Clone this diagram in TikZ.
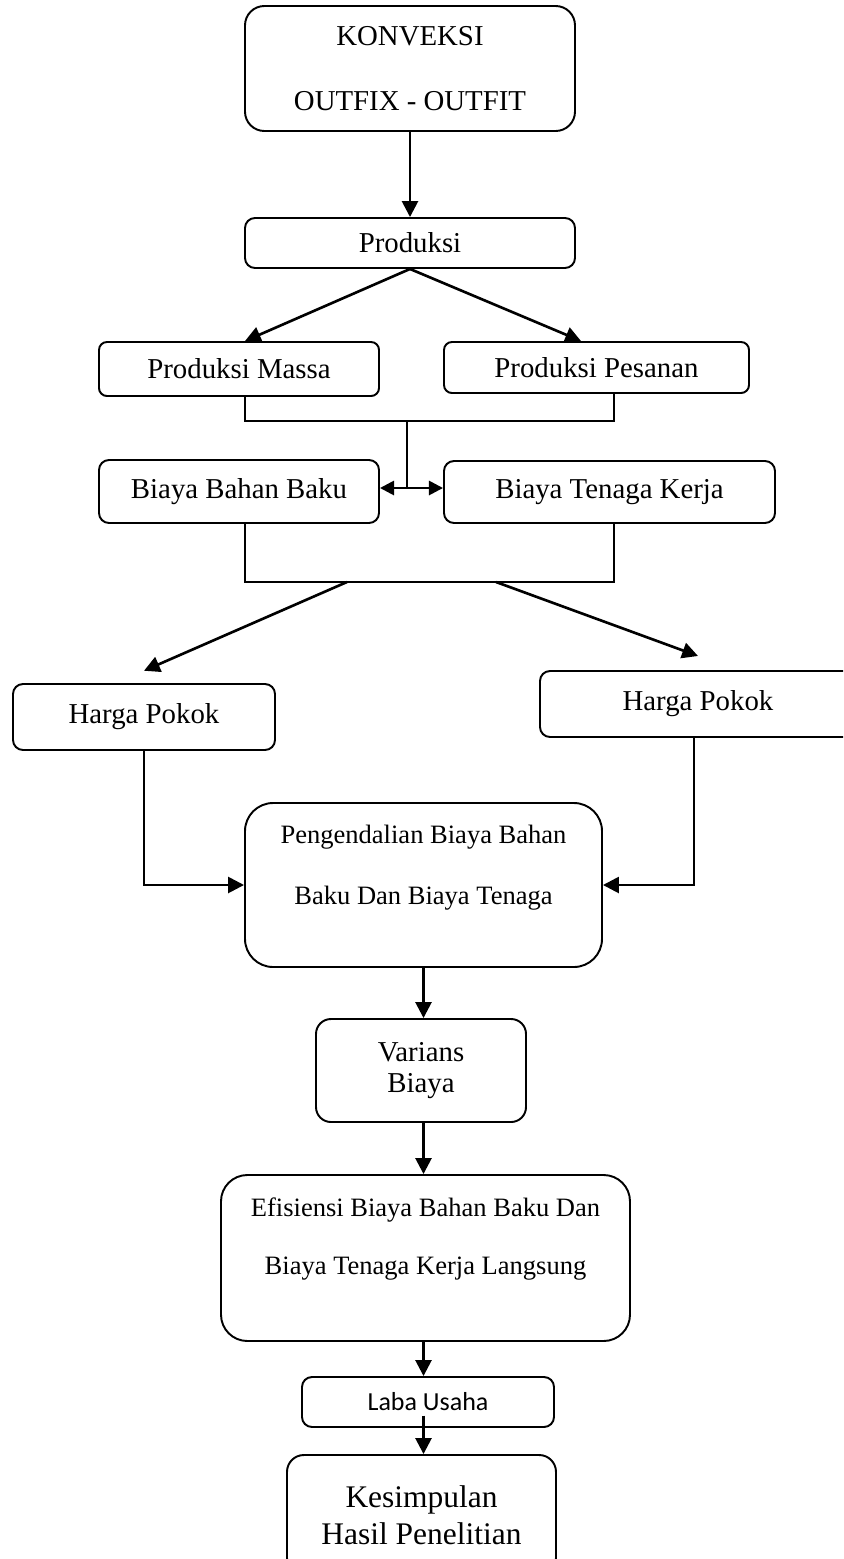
\documentclass[tikz,border=0pt]{standalone}
\usepackage{fontspec}
\setmainfont{Liberation Serif}
\newfontfamily\labafont{Carlito}
\usetikzlibrary{arrows.meta}
\newlength\pxu
\setlength\pxu{0.02cm}

\begin{document}
\begin{tikzpicture}[x=0.02cm, y=-0.02cm,
  box/.style={draw=black, line width=1.1pt, align=center, inner sep=0pt, rounded corners=5.7pt, font=\fontsize{16.4}{20}\selectfont},
  arr/.style={-{Triangle[length=9pt, width=9pt]}, line width=1.5pt},
  lin/.style={line width=1.1pt}]
  \useasboundingbox (0,0) rectangle (843,1559);
  \clip (0,0) rectangle (843,1559);

  \node[box, rounded corners=11pt, minimum width=330\pxu, minimum height=125\pxu, font=\fontsize{16.4}{36.8}\selectfont](Konv) at (410,68.5) {KONVEKSI\\OUTFIX - OUTFIT};
  \node[box, minimum width=330\pxu, minimum height=50\pxu](Prod) at (410,243) {Produksi};
  \node[box, rounded corners=4.5pt, minimum width=280\pxu, minimum height=54\pxu](PM) at (239,369) {Produksi Massa};
  \node[box, rounded corners=4.5pt, minimum width=305\pxu, minimum height=51\pxu](PP) at (596.5,367.5) {Produksi Pesanan};
  \node[box, minimum width=280\pxu, minimum height=63\pxu](BB) at (239,491.5) {Biaya Bahan Baku};
  \node[box, minimum width=331\pxu, minimum height=62\pxu](BT) at (609.5,492) {Biaya Tenaga Kerja};
  \node[box, minimum width=262\pxu, minimum height=66\pxu](HL) at (144,717) {Harga Pokok};
  \node[box, minimum width=316\pxu, minimum height=66\pxu](HR) at (698,704) {Harga Pokok};
  \node[box, rounded corners=16pt, minimum width=357\pxu, minimum height=164\pxu, font=\fontsize{15.1}{34.6}\selectfont](PB) at (423.5,885) {Pengendalian Biaya Bahan\\Baku Dan Biaya Tenaga\\[-11.6pt]\mbox{}};
  \node[box, rounded corners=8.5pt, minimum width=210\pxu, minimum height=103\pxu, font=\fontsize{16.4}{17.6}\selectfont](VB) at (421,1070.5) {Varians\\Biaya};
  \node[box, rounded corners=15pt, minimum width=409\pxu, minimum height=166\pxu, font=\fontsize{15.1}{32.9}\selectfont](EB) at (425.5,1258) {Efisiensi Biaya Bahan Baku Dan\\Biaya Tenaga Kerja Langsung\\[-8pt]\mbox{}};
  \node[box, minimum width=252\pxu, minimum height=50\pxu, font=\labafont\fontsize{14.8}{18}\selectfont](LU) at (428,1402) {Laba Usaha};
  \node[box, rounded corners=9.6pt, minimum width=269\pxu, minimum height=120\pxu, font=\fontsize{17.9}{21}\selectfont](KH) at (421.5,1515) {Kesimpulan\\Hasil Penelitian};

  \coordinate (J1) at (407,421);
  \coordinate (J2) at (407,488);
  \coordinate (J3) at (430,582);
  \coordinate (A1) at (347,582);
  \coordinate (A2) at (496,582);
  \coordinate (L1) at ([yshift=7pt]LU.south);

  \draw[arr] (Konv.south) -- (Prod.north);
  \draw[arr] (Prod.south) -- ([xshift=3.4pt]PM.north);
  \draw[arr] (Prod.south) -- ([xshift=-8.8pt]PP.north);

  \draw[lin] ([xshift=3.4pt]PM.south) |- (J1) -| ([xshift=9.9pt]PP.south);
  \draw[lin] (J1) -- (J2);
  \draw[{Triangle[length=8pt, width=8pt]}-{Triangle[length=8pt, width=8pt]}, line width=1.5pt] (BB.east |- J2) -- (BT.west |- J2);

  \draw[lin] ([xshift=3.4pt]BB.south) |- (J3) -| ([xshift=2.6pt]BT.south);
  \draw[arr] (A1) -- ([yshift=7pt]HL.north);
  \draw[arr] (A2) -- ([yshift=8pt]HR.north);

  \draw[arr] (HL.south) |- (PB.west);
  \draw[arr] ([xshift=-2.3pt]HR.south) |- (PB.east);

  \draw[arr] (PB.south) -- (PB.south |- VB.north);
  \draw[arr] (PB.south |- VB.south) -- (PB.south |- EB.north);
  \draw[arr] (PB.south |- EB.south) -- (PB.south |- LU.north);
  \draw[arr] (L1 -| PB.south) -- (PB.south |- KH.north);
\end{tikzpicture}
\end{document}
